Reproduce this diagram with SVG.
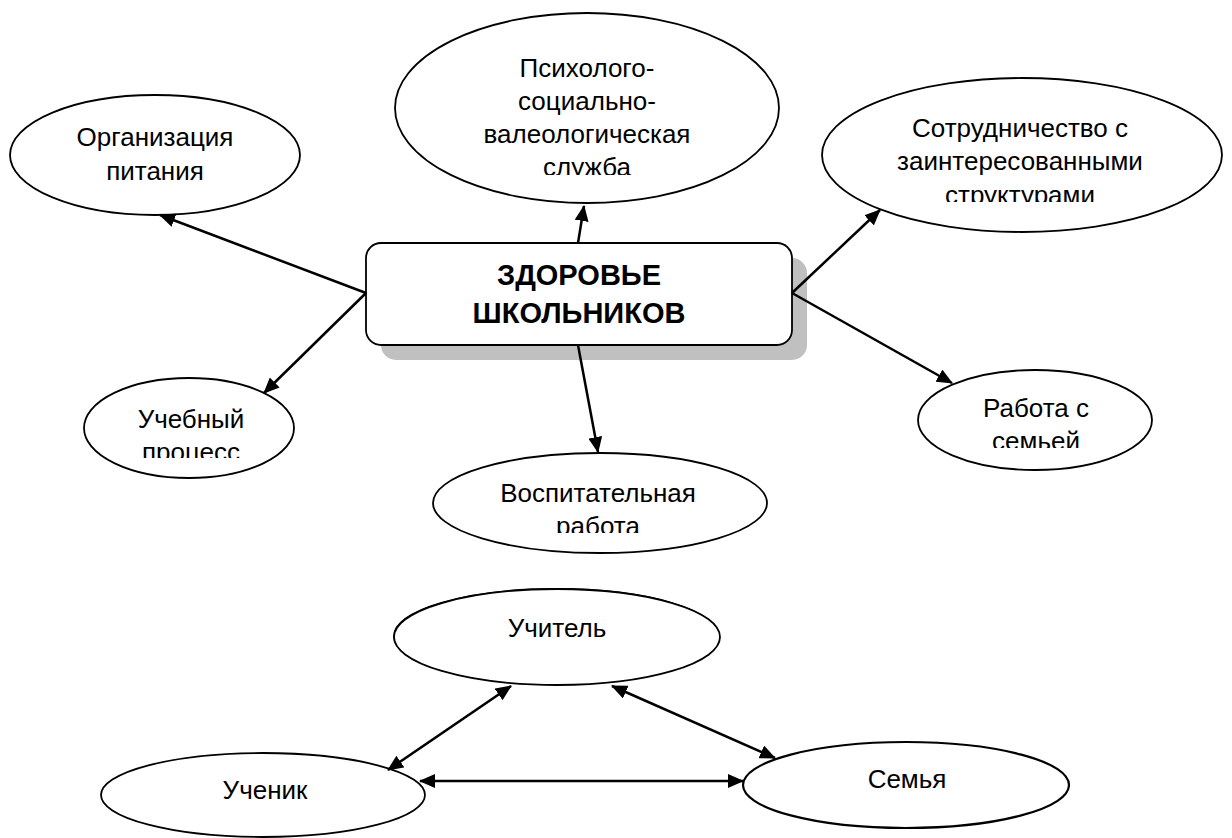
<svg xmlns="http://www.w3.org/2000/svg" width="1232" height="838" viewBox="0 0 1232 838">
<style>
.n{fill:#fff;stroke:#000;stroke-width:1.8}
.t{font-family:"Liberation Sans",Arial,sans-serif;font-size:26px;fill:#000;text-anchor:middle}
.b{font-family:"Liberation Sans",Arial,sans-serif;font-size:29px;font-weight:bold;fill:#000;text-anchor:middle}
.c{fill:none;stroke:#000;stroke-width:2.5}
</style>
<defs>
<marker id="ah" viewBox="0 0 16 14" refX="15" refY="7" markerWidth="16" markerHeight="14" markerUnits="userSpaceOnUse" orient="auto-start-reverse">
<path d="M0,0 L16,7 L0,14 z" fill="#000"/>
</marker>
<clipPath id="cp1"><rect x="395" y="0" width="385" height="175"/></clipPath>
<clipPath id="cp2"><rect x="822" y="80" width="400" height="122"/></clipPath>
<clipPath id="cp3"><rect x="84" y="380" width="210" height="78"/></clipPath>
<clipPath id="cp4"><rect x="432" y="455" width="335" height="78"/></clipPath>
<clipPath id="cp5"><rect x="918" y="372" width="235" height="76"/></clipPath>
</defs>
<rect width="1232" height="838" fill="#fff"/>
<g id="center">
<rect x="381" y="258" width="426" height="102" rx="15" fill="#c0c0c0"/>
<rect class="n" x="366" y="243" width="426" height="102" rx="15"/>
<text class="b" x="579" y="285">ЗДОРОВЬЕ</text>
<text class="b" x="579" y="323">ШКОЛЬНИКОВ</text>
</g>
<g id="nutrition">
<ellipse class="n" cx="155" cy="155" rx="145" ry="60"/>
<text class="t" x="155" y="146">Организация</text>
<text class="t" x="155" y="180">питания</text>
</g>
<g id="psych">
<ellipse class="n" cx="587" cy="108" rx="192" ry="95"/>
<g clip-path="url(#cp1)">
<text class="t" x="587" y="77">Психолого-</text>
<text class="t" x="587" y="110">социально-</text>
<text class="t" x="587" y="143">валеологическая</text>
<text class="t" x="587" y="176">служба</text>
</g>
</g>
<g id="cooperation">
<ellipse class="n" cx="1022" cy="155" rx="200" ry="77"/>
<g clip-path="url(#cp2)">
<text class="t" x="1020" y="137">Сотрудничество с</text>
<text class="t" x="1020" y="170">заинтересованными</text>
<text class="t" x="1020" y="204">структурами</text>
</g>
</g>
<g id="study">
<ellipse class="n" cx="189" cy="428" rx="105" ry="50"/>
<g clip-path="url(#cp3)">
<text class="t" x="191" y="428">Учебный</text>
<text class="t" x="191" y="461">процесс</text>
</g>
</g>
<g id="upbringing">
<ellipse class="n" cx="600" cy="503" rx="167" ry="50"/>
<g clip-path="url(#cp4)">
<text class="t" x="598" y="502">Воспитательная</text>
<text class="t" x="598" y="535">работа</text>
</g>
</g>
<g id="family-work">
<ellipse class="n" cx="1035" cy="420" rx="117" ry="50"/>
<g clip-path="url(#cp5)">
<text class="t" x="1036" y="417">Работа с</text>
<text class="t" x="1036" y="450">семьей</text>
</g>
</g>
<g id="teacher">
<ellipse class="n" cx="556" cy="636" rx="162" ry="47"/>
<ellipse class="n" cx="557" cy="637" rx="163" ry="48"/>
<text class="t" x="557" y="637">Учитель</text>
</g>
<g id="pupil">
<ellipse class="n" cx="263" cy="795" rx="162" ry="42"/>
<text class="t" x="265" y="799">Ученик</text>
</g>
<g id="family">
<ellipse class="n" cx="906" cy="785" rx="163" ry="43" style="stroke-width:2.2"/>
<text class="t" x="907" y="788">Семья</text>
</g>
<g id="connectors">
<line class="c" x1="366" y1="293" x2="160" y2="215" marker-end="url(#ah)"/>
<line class="c" x1="578" y1="243" x2="584" y2="206" marker-end="url(#ah)"/>
<line class="c" x1="792" y1="293" x2="880" y2="210" marker-end="url(#ah)"/>
<line class="c" x1="792" y1="293" x2="952" y2="383" marker-end="url(#ah)"/>
<line class="c" x1="578" y1="345" x2="598" y2="452" marker-end="url(#ah)"/>
<line class="c" x1="366" y1="293" x2="264" y2="393" marker-end="url(#ah)"/>
<line class="c" x1="388" y1="770" x2="511" y2="686" marker-start="url(#ah)" marker-end="url(#ah)"/>
<line class="c" x1="612" y1="686" x2="775" y2="758" marker-start="url(#ah)" marker-end="url(#ah)"/>
<line class="c" x1="420" y1="781" x2="743" y2="781" marker-start="url(#ah)" marker-end="url(#ah)"/>
</g>
</svg>
